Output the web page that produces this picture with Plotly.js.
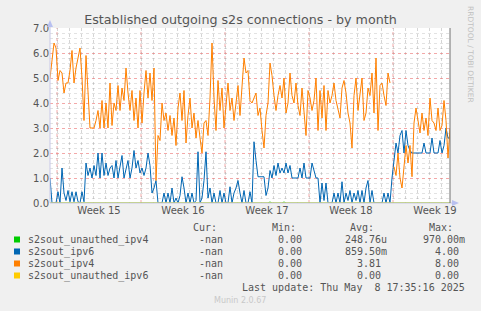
<!DOCTYPE html>
<html><head><meta charset="utf-8">
<script src="https://cdn.plot.ly/plotly-3.0.1.min.js"></script>
<style>html,body{margin:0;padding:0;background:#F0F0F0;}#chart{width:481px;height:311px;}</style>
</head><body><div id="chart"></div>
<script>
// time axis: days relative to the start of Week 15; one sample every 4 hours
const T0 = -7/12;
const STEP = 1/6;
const weekStarts = [0, 7, 14, 21, 28];
const weekCenters = [3.5, 10.5, 17.5, 24.5, 31.5];
const weekLabels = ['Week 15', 'Week 16', 'Week 17', 'Week 18', 'Week 19'];

const seriesNames = ['s2sout_unauthed_ipv4', 's2sout_ipv6', 's2sout_ipv4', 's2sout_unauthed_ipv6'];
const seriesColors = ['#00CC00', '#0066B3', '#FF8000', '#FFCC00'];
const statCur = ['-nan', '-nan', '-nan', '-nan'];
const statMin = ['0.00', '0.00', '0.00', '0.00'];
const statAvg = ['248.76u', '859.50m', '3.81', '0.00'];
const statMax = ['970.00m', '4.00', '8.00', '0.00'];

const ipv4 = [
  5.0,5.6,6.4,6.2,4.9,5.3,5.2,4.4,4.8,4.8,
  5.3,6.1,4.8,5.4,5.8,6.2,5.0,3.3,5.9,4.3,
  3.0,3.0,3.0,3.3,3.7,3.0,4.1,3.0,4.0,3.0,
  4.8,3.1,4.0,3.7,4.7,3.7,4.6,4.1,5.4,4.4,
  3.7,4.5,3.3,4.2,3.0,4.5,3.2,4.4,5.3,4.2,
  5.2,4.1,5.4,0.9,2.7,2.5,4.0,3.3,3.6,2.9,
  3.5,2.7,3.4,2.3,3.8,4.4,3.3,4.5,2.4,3.5,
  4.2,3.0,3.6,2.6,3.3,2.6,2.0,3.2,3.3,2.7,
  4.2,6.4,4.2,2.9,4.9,3.7,4.6,3.0,4.1,4.8,
  3.7,4.2,3.3,4.1,4.7,3.5,4.6,5.8,5.2,5.3,
  4.1,4.0,4.2,4.4,3.5,3.8,2.9,2.2,3.5,4.0,
  5.6,5.1,4.3,3.7,4.3,4.7,4.2,5.0,3.6,4.0,
  5.2,4.3,4.0,4.8,3.9,3.5,4.6,3.8,2.7,4.5,
  4.2,3.7,4.1,5.0,2.9,4.5,3.4,4.7,2.9,4.5,
  4.0,4.3,4.8,4.1,3.7,3.4,4.6,4.9,4.4,3.6,
  3.2,2.2,4.3,5.0,3.7,4.4,5.0,3.3,3.6,4.6,
  4.3,5.2,3.6,5.8,2.9,4.7,4.8,4.3,3.9,5.2,
  4.8,null,1.45,1.1,2.0,1.0,0.6,1.6,2.3,1.6,
  2.3,1.05,3.2,3.8,3.3,2.8,3.6,2.9,3.4,2.7,
  4.2,3.3,3.2,2.9,3.8,2.9,3.1,4.1,3.3,1.8,
  3.0
];

const ipv6 = [
  1.0,0.0,0.0,0.0,0.45,0.0,1.4,0.4,0.1,0.5,
  0.05,0.45,0.05,0.45,0.05,0.0,0.45,0.05,1.6,1.1,
  1.4,1.0,1.5,1.1,2.0,1.0,2.0,1.1,1.6,1.1,
  1.4,1.5,1.0,1.7,1.0,1.4,1.9,1.0,1.4,1.7,
  1.0,1.4,2.1,1.4,1.7,1.2,1.4,1.1,1.4,2.0,
  1.5,0.4,0.6,0.9,0.0,0.0,0.0,0.4,0.0,0.4,
  0.0,0.6,0.0,0.2,0.0,0.3,1.05,0.6,0.0,0.4,
  0.0,0.4,0.0,0.1,2.05,0.0,0.2,0.9,2.05,0.2,
  0.6,0.0,0.4,0.0,0.0,0.5,0.0,0.4,0.0,0.0,
  0.65,0.0,0.4,0.6,0.9,0.4,0.0,0.5,0.0,0.0,
  0.45,0.0,2.45,1.7,1.05,1.05,1.05,1.05,0.3,0.6,
  1.3,1.0,1.5,1.1,1.6,1.2,1.4,1.2,1.6,1.2,
  1.5,1.0,1.0,1.0,1.0,1.4,1.0,1.6,1.0,1.0,
  1.0,1.6,1.3,1.0,1.0,0.0,0.8,0.1,0.8,0.0,
  0.0,0.0,0.4,0.0,0.4,0.0,0.85,0.0,0.4,0.1,
  0.5,0.0,0.4,0.1,0.5,0.0,0.5,0.0,0.6,0.9,
  0.0,0.5,0.0,0.0,0.0,0.0,0.0,0.4,0.0,0.4,
  0.0,1.0,1.7,2.4,2.0,2.7,2.9,2.0,2.9,2.3,
  2.1,2.0,2.0,2.0,2.0,2.0,2.0,2.4,2.0,2.0,
  2.0,2.6,2.0,2.0,2.0,2.5,2.0,2.3,3.0,2.6,
  2.6
];

const unauthIpv4 = [
  0,0,0,0,0,0,0,0,0,0, 0,0,0,0,0,0,0,0,0,0,
  0,0,0,0,0,0,0,0,0,0, 0,0,0,0,0,0,0,0,0,0,
  0,0,0,0,0,0,0,0,0,0, 0,0,0,0,0,0,0,0,0,0,
  0,0,0,0,0,0,0,0,0,0, 0,0,0,0,0,0,0,0,0,0,
  0,0,0,0,0,0,0,0,0,0, 0,0,0,0,0,0,0,0,0,0,
  0,0,0,0,0,0,0,0,0,0, 0.04,0,0,0,0,0,0,0.04,0,0,
  0,0,0,0,0,0,0,0,0,0, 0,0,0,0,0,0,0,0,0,0,
  0,0,0,0,0,0,0,0,0,0, 0,0,0,0,0,0,0,0,0,0,
  0,0,0,0,0,0,0,0,0,0, 0,0,0,0,0,0,0,0,0,0,
  0,0,0,0,0,0,0,0,0,0, 0,0,0,0,0,0,0,0,0,0,
  0
];

const unauthIpv6 = [
  0,0,0,0,0,0,0,0,0,0, 0,0,0,0,0,0,0,0,0,0,
  0,0,0,0,0,0,0,0,0,0, 0,0,0,0,0,0,0,0,0,0,
  0,0,0,0,0,0,0,0,0,0, 0,0,0,0,0,0,0,0,0,0,
  0,0,0,0,0,0,0,0,0,0, 0,0,0,0,0,0,0,0,0,0,
  0,0,0,0,0,0,0,0,0,0, 0,0,0,0,0,0,0,0,0,0,
  0,0,0,0,0,0,0,0,0,0, 0,0,0,0,0,0,0,0,0,0,
  0,0,0,0,0,0,0,0,0,0, 0,0,0,0,0,0,0,0,0,0,
  0,0,0,0,0,0,0,0,0,0, 0,0,0,0,0,0,0,0,0,0,
  0,0,0,0,0,0,0,0,0,0, 0,0,0,0,0,0,0,0,0,0,
  0,0,0,0,0,0,0,0,0,0, 0,0,0,0,0,0,0,0,0,0,
  0
];

const seriesValues = [unauthIpv4, ipv6, ipv4, unauthIpv6];

// ---- layout helpers (pixel -> paper) ----
const PL = 50, PR = 450, PT = 28, PB = 203;
const px = v => (v - PL) / (PR - PL);
const py = v => (PB - v) / (PB - PT);

const traces = seriesValues.map((vals, k) => ({
  type: 'scatter', mode: 'lines',
  x: vals.map((_, i) => T0 + i * STEP),
  y: vals,
  line: {color: seriesColors[k], width: 1},
  connectgaps: false, hoverinfo: 'skip', showlegend: false
}));

const mono = {family: 'DejaVu Sans Mono', size: 10, color: '#555555'};
const annotations = [];
function ann(text, x, y, anchor, font) {
  annotations.push({text, x: px(x), y: py(y), xref: 'paper', yref: 'paper',
    xanchor: anchor, yanchor: 'middle', showarrow: false, font: font || mono});
}
ann('Cur:', 218.5, 227.5, 'right');
ann('Min:', 297.5, 227.5, 'right');
ann('Avg:', 375.5, 227.5, 'right');
ann('Max:', 454.5, 227.5, 'right');
const rowY = [239.5, 251.5, 263.5, 275.5];
const shapes = [];
seriesNames.forEach((n, k) => {
  ann(n, 26, rowY[k], 'left');
  ann(statCur[k], 224.5, rowY[k], 'right');
  ann(statMin[k], 303.5, rowY[k], 'right');
  const avgR = /[a-z]$/.test(statAvg[k]) ? 388.5 : 382.5;
  const maxR = /[a-z]$/.test(statMax[k]) ? 466.5 : 460.5;
  ann(statAvg[k], avgR, rowY[k], 'right');
  ann(statMax[k], maxR, rowY[k], 'right');
  shapes.push({type: 'rect', xref: 'paper', yref: 'paper',
    x0: px(14), x1: px(20), y0: py(rowY[k] + 3), y1: py(rowY[k] - 3),
    fillcolor: seriesColors[k], line: {width: 0}});
});
ann('Last update: Thu May \u00a08 17:35:16 2025', 466.5, 287.5, 'right');
ann('Munin 2.0.67', 240, 300, 'center', {family: 'DejaVu Sans', size: 8, color: '#c8c8c8'});
annotations.push({text: 'RRDTOOL / TOBI OETIKER', x: px(471), y: py(54), xref: 'paper', yref: 'paper',
  xanchor: 'center', yanchor: 'middle', textangle: 90, showarrow: false,
  font: {family: 'DejaVu Sans', size: 7.5, color: '#c0c0c0'}});

// week boundary grid lines (red dotted)
weekStarts.forEach(w => shapes.push({type: 'line', xref: 'x', yref: 'paper', x0: w, x1: w, y0: 0, y1: 1,
  layer: 'between', line: {color: 'rgba(235,110,110,0.6)', width: 1, dash: 'dot'}}));
// axis lines with arrows, right frame line
shapes.push({type: 'line', xref: 'paper', yref: 'paper', x0: px(50), x1: px(50), y0: py(203), y1: py(24),
  line: {color: '#c8c8e8', width: 1}});
shapes.push({type: 'line', xref: 'paper', yref: 'paper', x0: px(50), x1: px(455), y0: py(203), y1: py(203),
  line: {color: '#c8c8e8', width: 1}});
shapes.push({type: 'path', xref: 'paper', yref: 'paper',
  path: `M ${px(47)} ${py(27)} L ${px(53)} ${py(27)} L ${px(50)} ${py(20)} Z`,
  fillcolor: '#b8c0f0', line: {width: 0}});
shapes.push({type: 'path', xref: 'paper', yref: 'paper',
  path: `M ${px(452)} ${py(200)} L ${px(452)} ${py(206)} L ${px(459)} ${py(203)} Z`,
  fillcolor: '#b8c0f0', line: {width: 0}});
shapes.push({type: 'line', xref: 'paper', yref: 'paper', x0: px(450), x1: px(450), y0: py(203), y1: py(28),
  line: {color: '#707070', width: 1}});

const layout = {
  width: 481, height: 311,
  margin: {l: PL, r: 481 - PR, t: PT, b: 311 - PB},
  paper_bgcolor: '#F0F0F0', plot_bgcolor: '#FFFFFF',
  title: {text: 'Established outgoing s2s connections - by month', xref: 'container', yref: 'container',
    x: 0.5, y: 1 - 19.5 / 311, xanchor: 'center', yanchor: 'middle',
    font: {family: 'DejaVu Sans', size: 12.7, color: '#555555'}},
  xaxis: {range: [T0, T0 + 400 / 12], tickmode: 'array', tickvals: weekCenters, ticktext: weekLabels,
    showgrid: false, zeroline: false, showline: false, ticks: '',
    tickfont: {family: 'DejaVu Sans', size: 10, color: '#555555'},
    minor: {tickmode: 'linear', tick0: 0, dtick: 1, showgrid: true, gridcolor: 'rgba(150,150,150,0.4)', griddash: 'dot', gridwidth: 1, ticks: ''}},
  yaxis: {range: [0, 7], dtick: 1, tickformat: '.1f', showgrid: true, gridcolor: 'rgba(235,110,110,0.6)',
    griddash: 'dot', gridwidth: 1, zeroline: false, showline: false, ticks: '',
    tickfont: {family: 'DejaVu Sans', size: 10, color: '#555555'},
    minor: {tickmode: 'linear', tick0: 0, dtick: 0.2, showgrid: true, gridcolor: 'rgba(150,150,150,0.28)', griddash: 'dot', gridwidth: 1, ticks: ''}},
  shapes, annotations, showlegend: false
};

Plotly.newPlot('chart', traces, layout, {staticPlot: true, displayModeBar: false});
</script></body></html>
